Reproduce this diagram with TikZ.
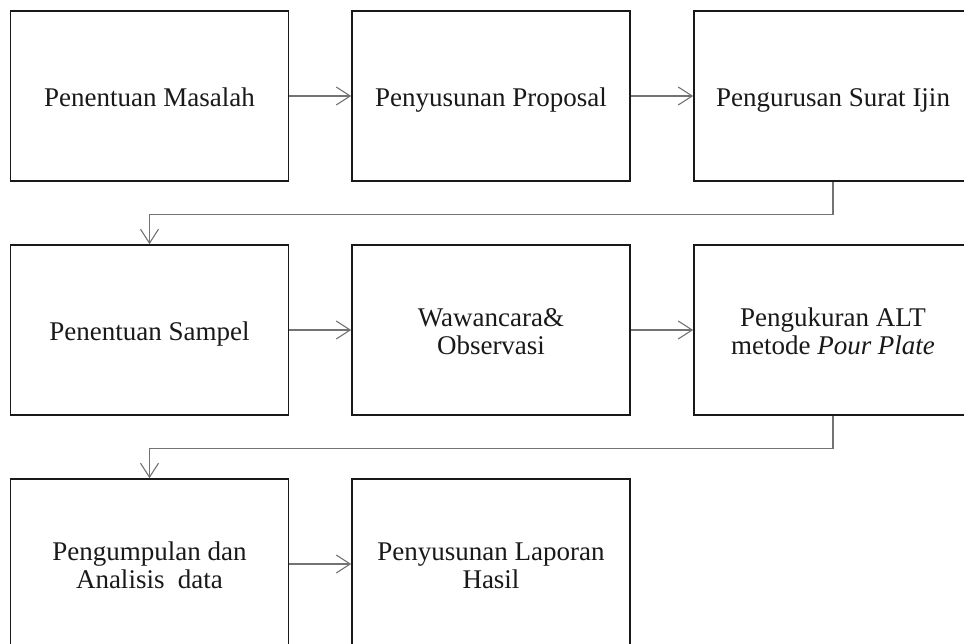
\documentclass[tikz,border=0pt]{standalone}
\usepackage{fontspec}
\setmainfont{Liberation Serif}
\usetikzlibrary{arrows.meta}
\newcommand\tstrut{\rule[-6pt]{0pt}{33.2pt}}
\newcommand\boxfont{\fontsize{27}{28}\selectfont\lineskiplimit=-50pt\relax}
\tikzset{
  stepbox/.style={draw=black!90, line width=1.6pt, minimum width=278pt, minimum height=170pt,
    inner sep=0pt, align=center, font=\boxfont, text=black!90},
  arr/.style={draw=black!55, line width=1.2pt, -{Straight Barb[length=14pt,width=18pt,line width=1.1pt]}}
}
\begin{document}
\begin{tikzpicture}[x=1pt,y=-1pt]
\useasboundingbox (0,0) rectangle (964,644);
\clip (0,0) rectangle (964,644);
\fill[white] (0,0) rectangle (964,644);
\node[stepbox] (b1) at (149.5,96) {\tstrut Penentuan Masalah};
\node[stepbox] (b2) at (491,96) {\tstrut Penyusunan Proposal};
\node[stepbox] (b3) at (833,96) {\tstrut Pengurusan Surat Ijin};
\node[stepbox] (b4) at (149.5,330) {\tstrut Penentuan Sampel};
\node[stepbox] (b5) at (491,330) {\tstrut Wawancara\&\\\tstrut Observasi};
\node[stepbox] (b6) at (833,330) {\tstrut Pengukuran ALT\\\tstrut metode \textit{Pour Plate}};
\node[stepbox] (b7) at (149.5,564) {\tstrut Pengumpulan dan\\\tstrut Analisis\ \ data};
\node[stepbox] (b8) at (491,564) {\tstrut Penyusunan Laporan\\\tstrut Hasil};
\draw[arr] (b1.east) -- (b2.west);
\draw[arr] (b2.east) -- (b3.west);
\draw[arr] (b4.east) -- (b5.west);
\draw[arr] (b5.east) -- (b6.west);
\draw[arr] (b7.east) -- (b8.west);
\draw[arr] (b3.south) -- ++(0,33) -| (b4.north);
\draw[arr] (b6.south) -- ++(0,33) -| (b7.north);
\end{tikzpicture}
\end{document}
